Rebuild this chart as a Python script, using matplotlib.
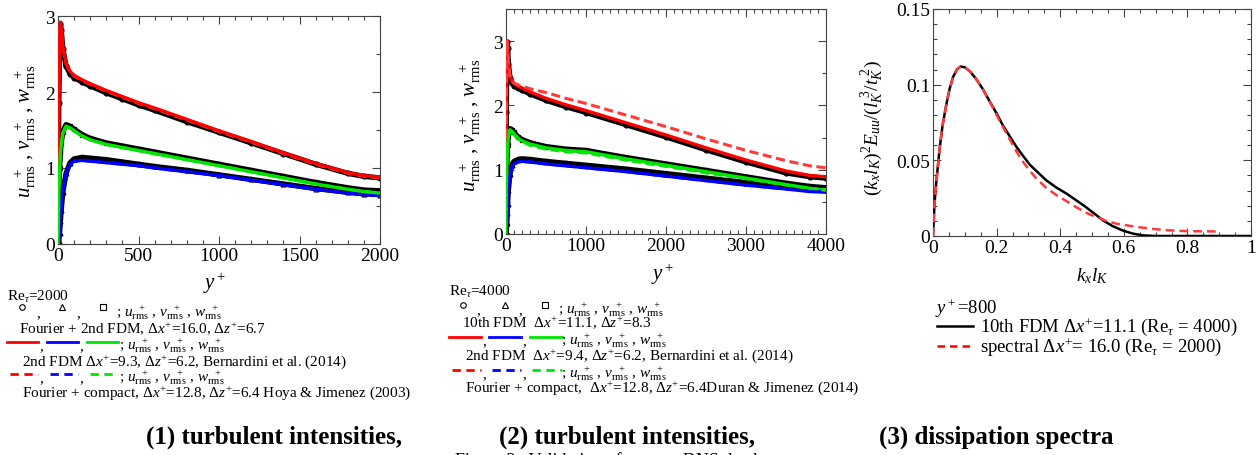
import matplotlib
matplotlib.use("Agg")
import matplotlib.pyplot as plt
from matplotlib.lines import Line2D
from matplotlib.ticker import MultipleLocator

plt.rcParams['font.family'] = ['Liberation Serif', 'DejaVu Serif']
plt.rcParams['mathtext.fontset'] = 'custom'
plt.rcParams['mathtext.rm'] = 'Liberation Serif'
plt.rcParams['mathtext.it'] = 'Liberation Serif:italic'
plt.rcParams['mathtext.bf'] = 'Liberation Serif:bold'

# ---------------- data: Re_tau = 2000 ----------------
yp_2000 = [0, 2, 5, 10, 15, 20, 30, 50, 75, 100, 150, 200, 300, 400, 500, 600,
           800, 1000, 1200, 1400, 1600, 1800, 1900, 2000]
u_pres_2000 = [0, 0.78, 1.85, 2.65, 2.90, 2.82, 2.57, 2.34, 2.24, 2.19, 2.13, 2.08, 1.99, 1.91,
               1.83, 1.76, 1.61, 1.47, 1.33, 1.19, 1.05, 0.93, 0.89, 0.87]
v_pres_2000 = [0, 0.01, 0.04, 0.15, 0.30, 0.45, 0.68, 0.93, 1.07, 1.12, 1.14, 1.13, 1.11, 1.08,
               1.05, 1.02, 0.97, 0.91, 0.85, 0.79, 0.73, 0.68, 0.66, 0.65]
w_pres_2000 = [0, 0.30, 0.70, 1.00, 1.20, 1.33, 1.48, 1.57, 1.55, 1.51, 1.44, 1.39, 1.33, 1.29,
               1.25, 1.21, 1.13, 1.05, 0.97, 0.89, 0.81, 0.74, 0.71, 0.70]
u_bern_2000 = [0, 0.78, 1.85, 2.65, 2.92, 2.85, 2.60, 2.38, 2.27, 2.22, 2.16, 2.11, 2.02, 1.94,
               1.86, 1.79, 1.64, 1.49, 1.35, 1.20, 1.06, 0.94, 0.90, 0.88]
v_bern_2000 = [0, 0.01, 0.06, 0.20, 0.36, 0.50, 0.70, 0.93, 1.05, 1.09, 1.10, 1.09, 1.07, 1.05,
               1.03, 1.00, 0.95, 0.90, 0.84, 0.78, 0.72, 0.67, 0.65, 0.64]
w_bern_2000 = [0, 0.30, 0.70, 1.00, 1.20, 1.32, 1.46, 1.55, 1.53, 1.49, 1.42, 1.37, 1.31, 1.27,
               1.23, 1.19, 1.11, 1.03, 0.95, 0.87, 0.79, 0.72, 0.69, 0.67]
u_hoy_2000 = [0, 0.78, 1.85, 2.65, 2.91, 2.84, 2.59, 2.37, 2.26, 2.21, 2.15, 2.10, 2.01, 1.93,
              1.85, 1.78, 1.63, 1.48, 1.34, 1.19, 1.05, 0.93, 0.89, 0.87]
v_hoy_2000 = [0, 0.01, 0.06, 0.20, 0.36, 0.50, 0.70, 0.93, 1.05, 1.09, 1.10, 1.09, 1.07, 1.05,
              1.03, 1.00, 0.95, 0.90, 0.84, 0.78, 0.72, 0.67, 0.65, 0.64]
w_hoy_2000 = [0, 0.30, 0.70, 1.00, 1.20, 1.32, 1.46, 1.55, 1.53, 1.49, 1.42, 1.37, 1.31, 1.27,
              1.23, 1.19, 1.11, 1.03, 0.95, 0.87, 0.79, 0.72, 0.69, 0.67]

# ---------------- data: Re_tau = 4000 ----------------
yp_4000 = [0, 2, 5, 10, 15, 20, 30, 50, 75, 100, 150, 200, 300, 500, 750, 1000,
           1500, 2000, 2500, 3000, 3500, 3800, 4000]
u_pres_4000 = [0, 0.80, 1.90, 2.70, 2.98, 2.90, 2.65, 2.43, 2.35, 2.31, 2.27, 2.24, 2.18, 2.08,
               1.98, 1.89, 1.70, 1.51, 1.31, 1.12, 0.95, 0.89, 0.87]
v_pres_4000 = [0, 0.01, 0.05, 0.17, 0.32, 0.47, 0.68, 0.94, 1.08, 1.13, 1.16, 1.17, 1.16, 1.13,
               1.10, 1.07, 1.01, 0.94, 0.87, 0.80, 0.74, 0.70, 0.69]
w_pres_4000 = [0, 0.30, 0.72, 1.05, 1.25, 1.38, 1.53, 1.64, 1.62, 1.58, 1.51, 1.47, 1.42, 1.36,
               1.32, 1.30, 1.19, 1.09, 0.99, 0.89, 0.79, 0.74, 0.72]
u_bern_4000 = [0, 0.80, 1.90, 2.70, 3.00, 2.93, 2.68, 2.46, 2.38, 2.34, 2.30, 2.27, 2.21, 2.11,
               2.01, 1.92, 1.73, 1.54, 1.34, 1.15, 0.98, 0.91, 0.89]
v_bern_4000 = [0, 0.01, 0.06, 0.20, 0.36, 0.50, 0.70, 0.93, 1.05, 1.09, 1.12, 1.13, 1.12, 1.09,
               1.06, 1.03, 0.97, 0.90, 0.83, 0.76, 0.70, 0.66, 0.65]
w_bern_4000 = [0, 0.30, 0.72, 1.05, 1.25, 1.38, 1.52, 1.62, 1.60, 1.56, 1.49, 1.45, 1.40, 1.34,
               1.30, 1.28, 1.17, 1.07, 0.97, 0.87, 0.77, 0.71, 0.68]
u_dur_4000 = [0, 0.80, 1.90, 2.70, 3.00, 2.93, 2.68, 2.46, 2.38, 2.35, 2.32, 2.30, 2.26, 2.20,
              2.11, 2.03, 1.85, 1.67, 1.48, 1.30, 1.14, 1.06, 1.03]
v_dur_4000 = [0, 0.01, 0.06, 0.20, 0.36, 0.50, 0.70, 0.93, 1.05, 1.09, 1.12, 1.13, 1.12, 1.09,
              1.06, 1.03, 0.97, 0.90, 0.83, 0.76, 0.70, 0.67, 0.66]
w_dur_4000 = [0, 0.30, 0.72, 1.05, 1.25, 1.38, 1.52, 1.62, 1.60, 1.55, 1.48, 1.44, 1.38, 1.32,
              1.28, 1.26, 1.15, 1.05, 0.95, 0.86, 0.76, 0.71, 0.69]

# ---------------- data: dissipation spectra (y+=800) ----------------
kx_fdm = [0, 0.005, 0.0105, 0.021, 0.03, 0.042, 0.052, 0.063, 0.075, 0.087, 0.1, 0.115, 0.135,
          0.157, 0.178, 0.2, 0.22, 0.241, 0.262, 0.283, 0.305, 0.325, 0.355, 0.388, 0.42,
          0.451, 0.475, 0.5, 0.535, 0.565, 0.598, 0.63, 0.661, 0.7, 0.8, 1.0]
E_fdm = [0, 0.022, 0.036, 0.058, 0.073, 0.087, 0.097, 0.105, 0.110, 0.112, 0.1115, 0.109, 0.104,
         0.097, 0.089, 0.081, 0.073, 0.066, 0.059, 0.053, 0.047, 0.043, 0.037, 0.032, 0.028,
         0.0235, 0.020, 0.016, 0.0103, 0.0065, 0.0035, 0.0015, 0.0004, 0.0, 0.0, 0.0]
kx_spec = [0, 0.005, 0.0105, 0.021, 0.03, 0.042, 0.052, 0.063, 0.075, 0.087, 0.1, 0.115, 0.135,
           0.157, 0.178, 0.2, 0.22, 0.241, 0.262, 0.283, 0.305, 0.325, 0.355, 0.388, 0.42,
           0.451, 0.48, 0.514, 0.545, 0.577, 0.61, 0.64, 0.7, 0.745, 0.8, 0.892]
E_spec = [0, 0.022, 0.036, 0.058, 0.073, 0.087, 0.097, 0.105, 0.110, 0.112, 0.1115, 0.109, 0.104,
          0.097, 0.089, 0.080, 0.072, 0.064, 0.056, 0.049, 0.043, 0.038, 0.032, 0.027, 0.023,
          0.019, 0.0155, 0.0125, 0.010, 0.0081, 0.007, 0.006, 0.0045, 0.0037, 0.0032, 0.003]

RED, BLUE, GREEN = '#ff0000', '#0000ff', '#00e600'
DRED = '#ff3a3a'

W, H = 1260, 456
fig = plt.figure(figsize=(W / 100, H / 100), dpi=100)


def fx(x):
    return x / W


def fy(y):
    return 1 - y / H


def add_axes(l, t, r, b):
    return fig.add_axes([fx(l), fy(b), (r - l) / W, (b - t) / H])


def style(ax, xmaj, xmin, ymaj, ymin):
    ax.xaxis.set_major_locator(MultipleLocator(xmaj))
    ax.xaxis.set_minor_locator(MultipleLocator(xmin))
    ax.yaxis.set_major_locator(MultipleLocator(ymaj))
    ax.yaxis.set_minor_locator(MultipleLocator(ymin))
    ax.tick_params(which='both', direction='in', top=True, right=True, labelsize=14,
                   width=0.8, color='#444444', pad=2)
    ax.tick_params(which='major', length=6)
    ax.tick_params(which='minor', length=3)
    for s in ax.spines.values():
        s.set_linewidth(0.8)
        s.set_color('#444444')


def hline(x0, x1, y, color, ls='-', lw=2.0):
    fig.add_artist(Line2D([fx(x0), fx(x1)], [fy(y), fy(y)], color=color, ls=ls, lw=lw,
                          transform=fig.transFigure))


def mark(x, y, m):
    fig.add_artist(Line2D([fx(x)], [fy(y)], marker=m, ms=4, mfc='white', mec='black', mew=0.8,
                          ls='none', transform=fig.transFigure))


def txt(x, y, s, size=11, **kw):
    fig.text(fx(x), fy(y), s, fontsize=size, ha='left', va='center', **kw)


def marker_curve(ax, x, y, m):
    ax.plot(x, y, color='black', lw=3.8, zorder=2, solid_capstyle='round')
    ax.plot(x, y, ls='none', marker=m, ms=3.5, mfc='none', mec='black', mew=0.9, zorder=2.5)


RMS = r"; $u_{\rm rms}^{\ \ +}$ , $v_{\rm rms}^{\ \ +}$ , $w_{\rm rms}^{\ \ +}$"
YLAB = r"$u_{\rm rms}^{\ \ +}$ , $v_{\rm rms}^{\ \ +}$ , $w_{\rm rms}^{\ \ +}$"
DX = r"$\mathit{Δx}^{+}$"
DZ = r"$\mathit{Δz}^{+}$"

# ---------------- panel 1 ----------------
ax1 = add_axes(58, 17, 380, 245)
marker_curve(ax1, yp_2000, u_pres_2000, 'o')
marker_curve(ax1, yp_2000, v_pres_2000, '^')
marker_curve(ax1, yp_2000, w_pres_2000, 's')
for yv, c in ((u_hoy_2000, DRED), (v_hoy_2000, BLUE), (w_hoy_2000, GREEN)):
    ax1.plot(yp_2000, yv, color=c, lw=2.2, ls=(0, (3, 1.5)), zorder=3)
for yv, c in ((u_bern_2000, RED), (v_bern_2000, BLUE), (w_bern_2000, GREEN)):
    ax1.plot(yp_2000, yv, color=c, lw=2.4, zorder=4)
ax1.set_xlim(0, 2000)
ax1.set_ylim(0, 3)
style(ax1, 500, 100, 1, 0.5)
ax1.set_ylabel(YLAB, fontsize=15)
ax1.yaxis.set_label_coords((25 - 58) / 322, 0.5)
ax1.yaxis.label.set_va('center')
fig.text(fx(215), fy(283), r"$y^+$", fontsize=15, ha='center', va='center')

txt(7, 297, r"Re$_\tau$=2000")
mark(22, 308, 'o'); txt(36, 314, ","); mark(62, 308, '^'); txt(76, 314, ","); mark(103, 308, 's')
txt(116, 313, RMS)
txt(19, 329, "Fourier + 2nd FDM, " + DX + "=16.0, " + DZ + "=6.7")
hline(7, 38, 343, RED); txt(39, 347, ","); hline(47, 78, 343, BLUE); txt(79, 347, ",")
hline(87, 118, 343, GREEN); txt(119, 346, RMS)
txt(22, 362, "2nd FDM " + DX + "=9.3, " + DZ + "=6.2, Bernardini et al. (2014)")
hline(10, 38, 375, RED, ls=(0, (3, 2))); txt(39, 379, ",")
hline(50, 78, 375, BLUE, ls=(0, (3, 2))); txt(79, 379, ",")
hline(90, 118, 375, GREEN, ls=(0, (3, 2))); txt(119, 378, RMS)
txt(22, 393, "Fourier + compact, " + DX + "=12.8, " + DZ + "=6.4 Hoya & Jimenez (2003)")

# ---------------- panel 2 ----------------
ax2 = add_axes(506, 10, 826, 235)
marker_curve(ax2, yp_4000, u_pres_4000, 'o')
marker_curve(ax2, yp_4000, v_pres_4000, '^')
marker_curve(ax2, yp_4000, w_pres_4000, 's')
for yv, c in ((u_bern_4000, RED), (v_bern_4000, BLUE), (w_bern_4000, GREEN)):
    ax2.plot(yp_4000, yv, color=c, lw=2.4, zorder=3)
for yv, c in ((u_dur_4000, DRED), (v_dur_4000, BLUE), (w_dur_4000, GREEN)):
    ax2.plot(yp_4000, yv, color=c, lw=2.2, ls=(0, (3, 1.5)), zorder=4)
ax2.set_xlim(0, 4000)
ax2.set_ylim(0, 3.5)
style(ax2, 1000, 100, 1, 0.5)
ax2.set_ylabel(YLAB, fontsize=15)
ax2.yaxis.set_label_coords((470 - 506) / 320, (235 - 125) / 225)
ax2.yaxis.label.set_va('center')
fig.text(fx(663), fy(274), r"$y^+$", fontsize=15, ha='center', va='center')

txt(449, 292, r"Re$_\tau$=4000")
mark(463, 306, 'o'); txt(476, 311, ","); mark(505, 306, '^'); txt(518, 311, ","); mark(545, 306, 's')
txt(558, 310, RMS)
txt(462, 323, "10th FDM  " + DX + "=11.1, " + DZ + "=8.3")
hline(449, 481, 338, RED); txt(482, 342, ","); hline(489, 521, 338, BLUE); txt(522, 342, ",")
hline(530, 562, 338, GREEN); txt(561, 341, RMS)
txt(465, 356, "2nd FDM  " + DX + "=9.4, " + DZ + "=6.2, Bernardini et al. (2014)")
hline(452, 481, 371, RED, ls=(0, (3, 2))); txt(482, 375, ",")
hline(492, 521, 371, BLUE, ls=(0, (3, 2))); txt(522, 375, ",")
hline(532, 562, 371, GREEN, ls=(0, (3, 2))); txt(561, 374, RMS)
txt(465, 388, "Fourier + compact,  " + DX + "=12.8, " + DZ + "=6.4Duran & Jimenez (2014)")

# ---------------- panel 3 ----------------
ax3 = add_axes(933, 10, 1251, 237)
ax3.plot(kx_fdm, E_fdm, color='black', lw=1.8, zorder=3)
ax3.plot(kx_spec, E_spec, color=DRED, lw=1.8, ls=(0, (3.5, 2)), zorder=4)
ax3.set_xlim(0, 1)
ax3.set_ylim(0, 0.15)
style(ax3, 0.2, 0.05, 0.05, 0.01)
ax3.xaxis.set_major_formatter(plt.FuncFormatter(lambda v, p: f"{v:g}"))
ax3.yaxis.set_major_formatter(plt.FuncFormatter(lambda v, p: f"{v:g}"))
ax3.set_ylabel(r"$(k_x l_K)^2 E_{uu}/(l_K^{\ 3}/t_K^{\ 2})$", fontsize=14)
ax3.yaxis.set_label_coords((872 - 933) / 318, (237 - 128) / 227)
ax3.yaxis.label.set_va('center')
fig.text(fx(1092), fy(276), r"$k_x l_K$", fontsize=14, ha='center', va='center')

txt(935, 309, r"$y^+$=800", size=13.5)
hline(937, 973, 327, 'black', lw=1.8)
txt(980, 327, "10th FDM " + DX + "=11.1 (Re$_\\tau$ = 4000)", size=13.5)
hline(937, 973, 347, RED, ls=(0, (3, 2)), lw=1.8)
txt(980, 347, "spectral " + DX + "= 16.0 (Re$_\\tau$ = 2000)", size=13.5)

# ---------------- captions ----------------
for cx, s in ((274, "(1) turbulent intensities,"), (627, "(2) turbulent intensities,"),
              (996, "(3) dissipation spectra")):
    fig.text(fx(cx), fy(437), s, fontsize=18, fontweight='bold', ha='center', va='center')
fig.text(fx(620), fy(461), "Figure 3   Validation of present DNS database", fontsize=13,
         ha='center', va='center')

fig.savefig("out.png", dpi=100)
